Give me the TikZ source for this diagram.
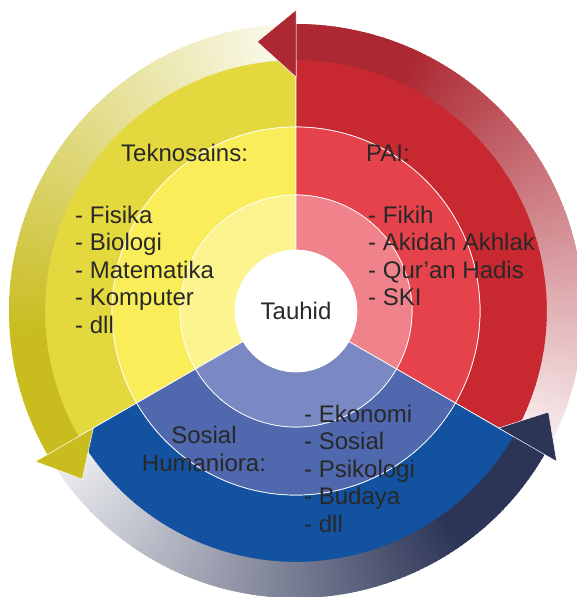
\documentclass[tikz,border=0pt]{standalone}
\usepackage{fontspec}
\setmainfont{Liberation Sans}
% ring palettes: arrow, outer, middle, inner
\definecolor{yA}{RGB}{200,188,30}
\definecolor{yO}{RGB}{227,217,62}
\definecolor{yM}{RGB}{249,238,90}
\definecolor{yI}{RGB}{252,244,143}
\definecolor{rA}{RGB}{172,40,50}
\definecolor{rO}{RGB}{200,40,47}
\definecolor{rM}{RGB}{230,66,75}
\definecolor{rI}{RGB}{239,130,139}
\definecolor{bA}{RGB}{45,53,87}
\definecolor{bO}{RGB}{18,82,160}
\definecolor{bM}{RGB}{79,104,174}
\definecolor{bI}{RGB}{122,137,195}
\definecolor{ink}{RGB}{40,40,40}
% annular sector: fill colour, start angle, end angle, inner radius, outer radius (pt)
\newcommand\ringpart[5]{%
  \filldraw[fill=#1,draw=white,line width=0.7pt]
    (#2:#4pt) arc[start angle=#2,end angle=#3,radius=#4pt]
    -- (#3:#5pt) arc[start angle=#3,end angle=#2,radius=#5pt] -- cycle;}
\tikzset{
  lbl/.style={font=\fontsize{24}{27.5}\selectfont,text=ink,inner sep=0pt},
  item/.style={lbl,anchor=base west},
}
\begin{document}
\begin{tikzpicture}
\useasboundingbox (0,0) rectangle (576pt,-597pt);
\begin{scope}[shift={(296pt,-311pt)}]
  % three sectors, each with three rings
  \foreach \s/\o/\m/\n in {90/yO/yM/yI, -30/rO/rM/rI, 210/bO/bM/bI}{
    \pgfmathsetmacro\e{\s+120}
    \ringpart{\o}{\s}{\e}{184}{252}
    \ringpart{\m}{\s}{\e}{116}{184}
    \ringpart{\n}{\s}{\e}{61}{116}
  }
  % circular arrows: band fading in from the tail
  \foreach \s/\c in {330/rA, 90/yA, 210/bA}{
    \foreach \i in {0,...,119}{
      \pgfmathsetmacro\a{\s+\i}
      \pgfmathsetmacro\b{\s+\i+1.5}
      \pgfmathsetmacro\t{min(100,6+94*\i/95)}
      \fill[\c!\t!white] (\a:251pt) arc[start angle=\a,end angle=\b,radius=251pt]
        -- (\b:287pt) arc[start angle=\b,end angle=\a,radius=287pt] -- cycle;
    }
  }
  % arrow heads
  \foreach \e/\c in {90/rA, 210/yA, 330/bA}{
    \pgfmathsetmacro\tip{\e+8.2}
    \filldraw[fill=\c,draw=white,line width=0.5pt]
      (\e:234pt) -- (\e:301pt) -- (\tip:272pt) -- cycle;
  }
  % centre
  \node[lbl,circle,fill=white,minimum size=122pt] (tauhid) at (0,0) {Tauhid};
\end{scope}

% Teknosains
\node[item] (tek) at (121pt,-161pt) {Teknosains:};
\foreach \t [count=\k] in {Fisika,Biologi,Matematika,Komputer,dll}{
  \node[item] (tek\k) at (75pt,{-223pt-27.5pt*(\k-1)}) {- \t};
}
% PAI
\node[item] (pai) at (366pt,-161pt) {PAI:};
\foreach \t [count=\k] in {Fikih,Akidah Akhlak,Qur’an Hadis,SKI}{
  \node[item] (pai\k) at (368pt,{-223pt-27.5pt*(\k-1)}) {- \t};
}
% Sosial Humaniora
\node[lbl,anchor=base] (soshum1) at (204pt,-443pt) {Sosial};
\node[lbl,anchor=base] (soshum2) at (204pt,-471pt) {Humaniora:};
\foreach \t [count=\k] in {Ekonomi,Sosial,Psikologi,Budaya,dll}{
  \node[item] (sos\k) at (304pt,{-422pt-27.5pt*(\k-1)}) {- \t};
}
\end{tikzpicture}
\end{document}
